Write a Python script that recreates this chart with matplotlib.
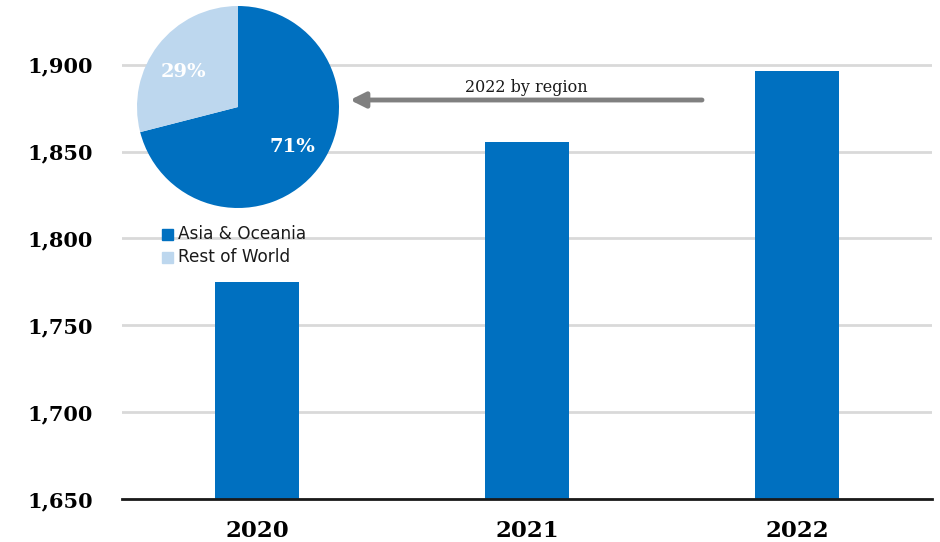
import matplotlib
matplotlib.use("Agg")
import matplotlib.pyplot as plt
import numpy as np

years = ["2020", "2021", "2022"]
values = [1775, 1855.5, 1896.5]
yticks = [1650, 1700, 1750, 1800, 1850, 1900]
pie_labels = ["Asia & Oceania", "Rest of World"]
pie_values = [71, 29]

BLUE = "#0070C0"
LIGHT = "#BDD7EE"
W, H = 940, 542

fig = plt.figure(figsize=(W / 100, H / 100), dpi=100)
ax = fig.add_axes([122 / W, (H - 499) / H, 810 / W, 495 / H])
x = np.arange(len(years))
ax.bar(x, values, width=84 / 270, color=BLUE, zorder=3)
ax.set_xlim(-0.5, 2.5)
ax.set_ylim(1650, 1935)
ax.set_yticks(yticks)
ax.set_yticklabels([f"{v:,}" for v in yticks], fontfamily="DejaVu Serif",
                   fontweight="bold", fontsize=15)
ax.set_xticks(x)
ax.set_xticklabels(years, fontfamily="DejaVu Serif", fontweight="bold", fontsize=16.5)
ax.tick_params(axis="y", length=0, pad=21)
ax.tick_params(axis="x", length=0, pad=15)
ax.grid(axis="y", color="#D9D9D9", linewidth=2, zorder=0)
for s in ["left", "right", "top"]:
    ax.spines[s].set_visible(False)
ax.spines["bottom"].set_color("#1a1a1a")
ax.spines["bottom"].set_linewidth(2)
ax.spines["bottom"].set_zorder(4)

# Arrow annotation
ax.annotate("", xy=(350 / W, (H - 100) / H), xytext=(702 / W, (H - 100) / H),
            xycoords="figure fraction", textcoords="figure fraction",
            arrowprops=dict(arrowstyle="-|>,head_length=0.9,head_width=0.45",
                        color="#808080", lw=3.5, shrinkA=0, shrinkB=0))
fig.text(526 / W, (H - 87) / H, "2022 by region", ha="center", va="center",
         fontfamily="DejaVu Serif", fontsize=11.5, color="#1a1a1a")

# Pie inset
r = 101
pax = fig.add_axes([(238 - r) / W, (H - 107 - r) / H, 2 * r / W, 2 * r / H])
wedges, _ = pax.pie(pie_values, colors=[BLUE, LIGHT], startangle=90,
                    counterclock=False, radius=1)
pax.set_xlim(-1, 1)
pax.set_ylim(-1, 1)
pax.set_aspect("equal")
pax.axis("off")
fig.text(292 / W, (H - 147) / H, f"{pie_values[0]}%", ha="center", va="center",
         color="white", fontfamily="DejaVu Serif", fontweight="bold", fontsize=14)
fig.text(183 / W, (H - 72) / H, f"{pie_values[1]}%", ha="center", va="center",
         color="white", fontfamily="DejaVu Serif", fontweight="bold", fontsize=14)

# Legend
for i, (lab, col) in enumerate(zip(pie_labels, [BLUE, LIGHT])):
    yc = (H - (234 + 23 * i)) / H
    fig.patches.append(plt.Rectangle((162 / W, yc - 5.5 / H), 11 / W, 11 / H,
                                     transform=fig.transFigure, color=col))
    fig.text(178 / W, yc, lab, ha="left", va="center", fontfamily="DejaVu Sans",
             fontsize=12.2, color="#1a1a1a")

fig.savefig("out.png", dpi=100)
